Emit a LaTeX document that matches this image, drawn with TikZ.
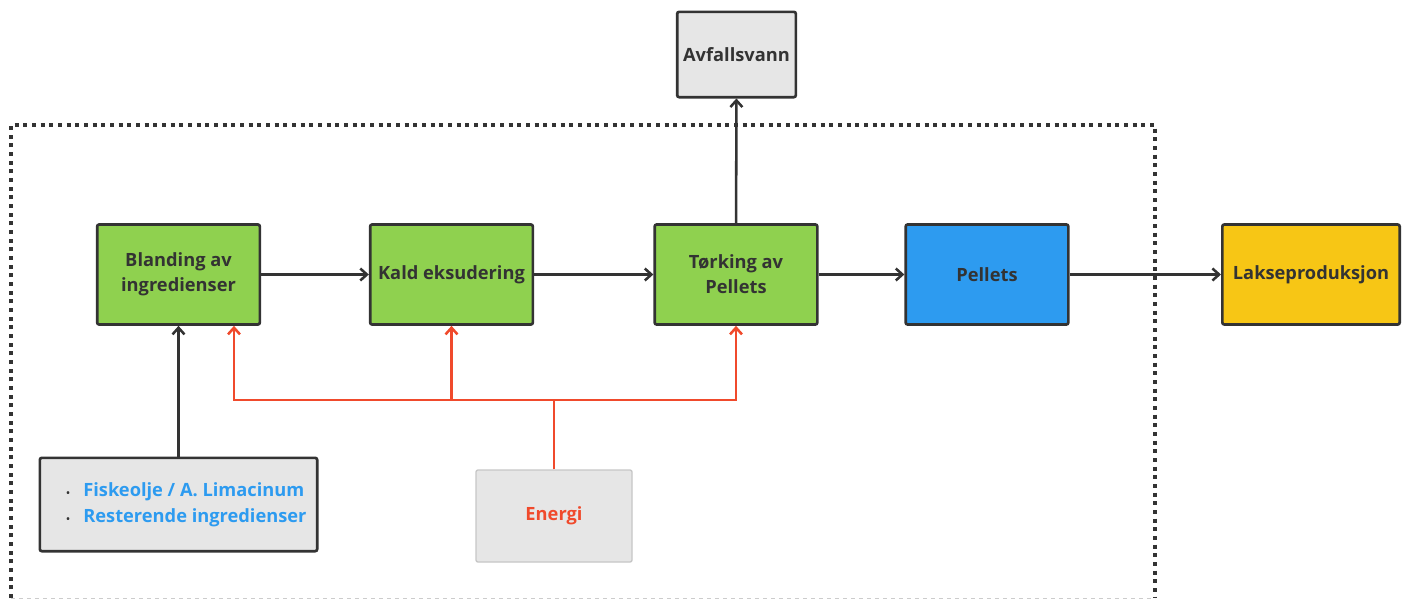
\documentclass[tikz,border=0pt]{standalone}
\usepackage{fontspec}
\setmainfont{Open Sans}
\usepackage{tikz}
\usetikzlibrary{arrows.meta}
\definecolor{darktext}{HTML}{333333}
\definecolor{stepgreen}{HTML}{8FD14F}
\definecolor{pelletblue}{HTML}{2D9BF0}
\definecolor{salmonyellow}{HTML}{F7C615}
\definecolor{boxgray}{HTML}{E6E6E6}
\definecolor{energyred}{HTML}{F04A2C}
\tikzstyle{procbox} = [draw=darktext, line width=2pt, rectangle, rounded corners=1.5pt,
    minimum width=122pt, minimum height=75pt, align=center, text=darktext,
    font=\bfseries\fontsize{13.7}{18.7}\selectfont, inner sep=2pt]
\tikzstyle{flow} = [draw=darktext, line width=1.9pt, -{Straight Barb[length=5pt,width=9pt]}]
\tikzstyle{energyflow} = [draw=energyred, line width=1.9pt, -{Straight Barb[length=5pt,width=9pt]}]

\begin{document}
\begin{tikzpicture}[x=0.75pt, y=-0.75pt]
                \useasboundingbox (0,0) rectangle (1407,600);
                % system boundary
                \draw[line width=3pt, dash pattern=on 3pt off 3.5pt, darktext] (11,598) -- (11,125) -- (1155,125) -- (1155,598);
                \draw[gray!40, dashed, line width=0.6pt] (11,598) -- (1155,598);
                % process steps
                \node[procbox, fill=stepgreen] (blanding) at (178.5,274.5) {Blanding av\\ingredienser};
                \node[procbox, fill=stepgreen] (kald) at (451.5,274.5) {Kald eksudering};
                \node[procbox, fill=stepgreen] (torking) at (736,274.5) {Tørking av\\Pellets};
                \node[procbox, fill=pelletblue] (pellets) at (987,274.5) {Pellets};
                \node[procbox, fill=salmonyellow, minimum width=133pt] (lakse) at (1311,274.5) {Lakseproduksjon};
                \node[procbox, fill=boxgray, minimum width=89pt, minimum height=64pt] (avfall) at (736.5,54.5) {Avfallsvann};
                \node[procbox, fill=boxgray, minimum width=208pt, minimum height=70pt, align=left,
                      font=\bfseries\fontsize{13.7}{19.5}\selectfont] (inputs) at (178.5,504.5) {%
                    \hspace{12pt}{\color{darktext}\scriptsize\textbullet}\hspace{10pt}{\color{pelletblue}Fiskeolje / A. Limacinum}\\
                    \hspace{12pt}{\color{darktext}\scriptsize\textbullet}\hspace{10pt}{\color{pelletblue}Resterende ingredienser}};
                \node[procbox, fill=boxgray, draw=gray!45, line width=1pt, minimum width=117pt, minimum height=69pt, text=energyred] (energi) at (554,516) {Energi};
                % main flow
                \draw[flow] (blanding) -- (kald);
                \draw[flow] (kald) -- (torking);
                \draw[flow] (torking) -- (pellets);
                \draw[flow] (pellets) -- (lakse);
                \draw[flow] (torking) -- (avfall);
                \draw[flow] (inputs) -- (blanding);
                % energy supply
                \coordinate (ejoin) at (554,400);
                \draw[energyred, line width=1.9pt] (energi.north) -- (ejoin);
                \draw[energyflow] (ejoin) -| (blanding.south -| 234,0);
                \draw[energyflow] (ejoin) -| (kald.south);
                \draw[energyflow] (ejoin) -| (torking.south);
            \end{tikzpicture}
\end{document}
